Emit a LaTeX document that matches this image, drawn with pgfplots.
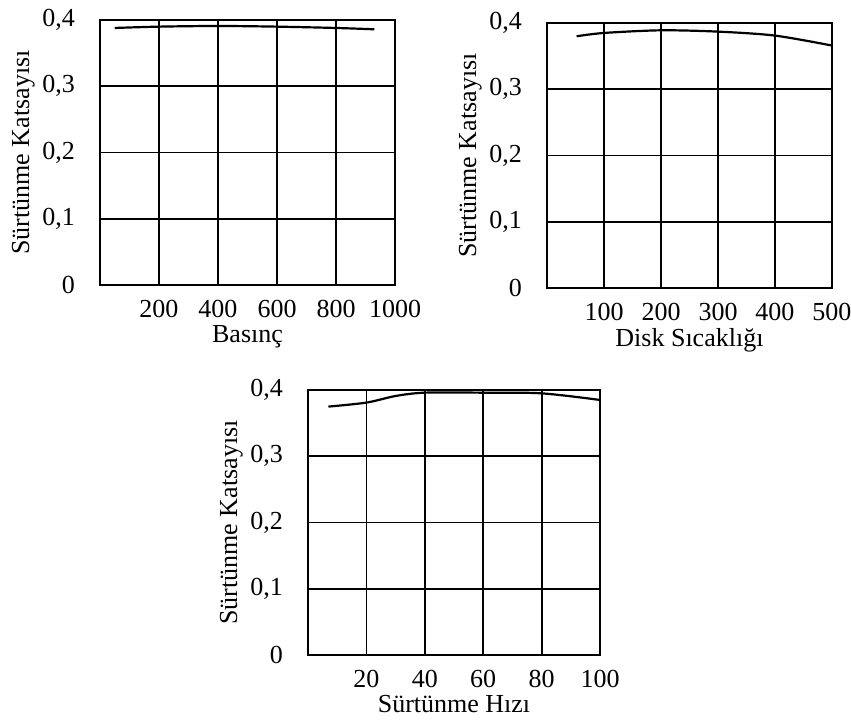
\documentclass[border=0pt]{standalone}
\usepackage{fontspec}
\setmainfont{Liberation Serif}
\usepackage{pgfplots}
\pgfplotsset{compat=1.18}

\pgfplotsset{
  scanplot/.style={
    scale only axis,
    width=147.5pt, height=132.5pt,
    ymin=0, ymax=0.4,
    ytick={0,0.1,0.2,0.3,0.4},
    yticklabels={0,{0,1},{0,2},{0,3},{0,4}},
    grid=major,
    grid style={black, line width=0.9pt},
    axis line style={black, line width=1.1pt},
    major tick length=0pt,
    tick label style={font=\fontsize{13}{15}\selectfont},
    label style={font=\fontsize{13}{15}\selectfont},
    yticklabel style={xshift=-9pt},
    xticklabel style={yshift=-4pt},
    ylabel={Sürtünme Katsayısı},
    ylabel style={yshift=-3pt},
    xlabel style={yshift=3pt},
    /pgf/number format/assume math mode=true,
    /pgf/number format/1000 sep={},
  },
}

\begin{document}
\begin{tikzpicture}
\path[use as bounding box] (0,0) rectangle (425.5pt,-360pt);

% Basinc
\begin{axis}[scanplot, at={(50pt,-142.5pt)}, anchor=south west,
  xmin=0, xmax=1000, xtick={200,400,600,800,1000},
  xlabel={Basınç}]
\addplot[black, line width=1.1pt, smooth] coordinates {
  (50,0.388)(200,0.390)(400,0.391)(600,0.390)(800,0.388)(930,0.386)
};
\end{axis}

% Disk sicakligi
\begin{axis}[scanplot, width=142.5pt, at={(273.5pt,-144pt)}, anchor=south west,
  xmin=0, xmax=500, xtick={100,200,300,400,500},
  xlabel={Disk Sıcaklığı}]
\addplot[black, line width=1.1pt, smooth] coordinates {
  (52,0.380)(100,0.385)(200,0.389)(300,0.387)(400,0.381)(500,0.366)
};
\end{axis}

% Surtunme hizi
\begin{axis}[scanplot, width=146pt, at={(154pt,-327.5pt)}, anchor=south west,
  xmin=0, xmax=100, xtick={20,40,60,80,100},
  xlabel={Sürtünme Hızı}]
\addplot[black, line width=1.1pt, smooth] coordinates {
  (7,0.375)(20,0.381)(30,0.391)(40,0.396)(60,0.396)(80,0.395)(100,0.385)
};
\end{axis}
\end{tikzpicture}
\end{document}
